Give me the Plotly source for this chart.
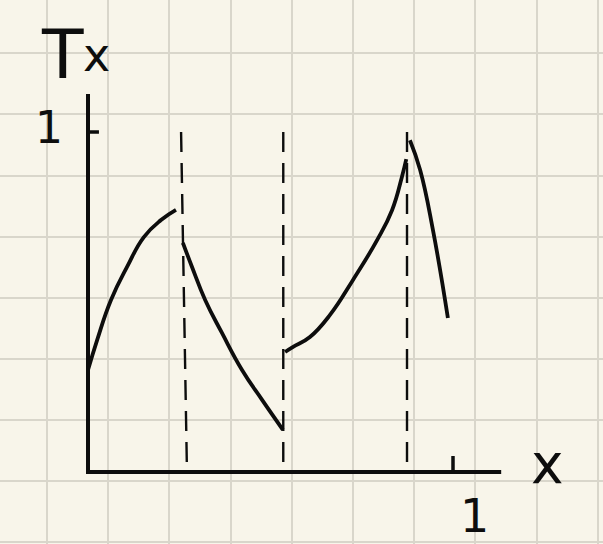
import plotly.graph_objects as go

# Piecewise curve of T(x), four branches
seg1_x = [0.0, 0.025, 0.063, 0.107, 0.153, 0.200, 0.241]
seg1_y = [0.300, 0.388, 0.506, 0.603, 0.691, 0.741, 0.771]

seg2_x = [0.260, 0.285, 0.321, 0.367, 0.422, 0.477, 0.534]
seg2_y = [0.674, 0.603, 0.506, 0.409, 0.300, 0.212, 0.124]

seg3_x = [0.540, 0.562, 0.608, 0.663, 0.726, 0.792, 0.833, 0.860, 0.872]
seg3_y = [0.353, 0.368, 0.397, 0.462, 0.565, 0.682, 0.770, 0.868, 0.920]

seg4_x = [0.882, 0.910, 0.945, 0.986]
seg4_y = [0.976, 0.888, 0.712, 0.453]

# Dashed vertical guides at the jumps (top x, bottom x)
guides_top = [0.255, 0.535, 0.874]
guides_bot = [0.271, 0.535, 0.874]

PAPER = "#f8f5ea"
GRID = "#d9d6cb"
INK = "#0d0d0d"

fig = go.Figure()

for xs, ys in [(seg1_x, seg1_y), (seg2_x, seg2_y), (seg3_x, seg3_y), (seg4_x, seg4_y)]:
    fig.add_trace(go.Scatter(x=xs, y=ys, mode="lines",
                             line=dict(color=INK, width=3.8, shape="spline", smoothing=1.3),
                             hoverinfo="skip", showlegend=False))

for xt, xb in zip(guides_top, guides_bot):
    fig.add_trace(go.Scatter(x=[xt, xb], y=[1.0, 0.01], mode="lines",
                             line=dict(color=INK, width=2.4, dash="20px,11px"),
                             hoverinfo="skip", showlegend=False))

# Axes drawn as ink strokes
fig.add_trace(go.Scatter(x=[0, 0, 1.132], y=[1.112, 0, 0], mode="lines",
                         line=dict(color=INK, width=4), hoverinfo="skip", showlegend=False))
fig.add_trace(go.Scatter(x=[0, 0.03], y=[1, 1], mode="lines",
                         line=dict(color=INK, width=3.5), hoverinfo="skip", showlegend=False))
fig.add_trace(go.Scatter(x=[1, 1], y=[0, 0.047], mode="lines",
                         line=dict(color=INK, width=3.5), hoverinfo="skip", showlegend=False))

font = "DejaVu Sans"
fig.add_annotation(x=-0.071, y=1.229, text="T", showarrow=False,
                   font=dict(family=font, size=68, color=INK))
fig.add_annotation(x=0.022, y=1.226, text="x", showarrow=False,
                   font=dict(family=font, size=46, color=INK))
fig.add_annotation(x=-0.107, y=1.012, text="1", showarrow=False,
                   font=dict(family=font, size=44, color=INK))
fig.add_annotation(x=1.058, y=-0.128, text="1", showarrow=False,
                   font=dict(family=font, size=46, color=INK))
fig.add_annotation(x=1.260, y=0.024, text="x", showarrow=False,
                   font=dict(family=font, size=55, color=INK))

fig.update_layout(
    width=603, height=544,
    margin=dict(l=0, r=0, t=0, b=0),
    paper_bgcolor=PAPER, plot_bgcolor=PAPER,
    xaxis=dict(range=[-88 / 365, 515 / 365], showticklabels=False, ticks="",
               showgrid=True, gridcolor=GRID, gridwidth=2,
               tick0=-41 / 365, dtick=61.2 / 365, zeroline=False, fixedrange=True),
    yaxis=dict(range=[-72 / 340, 472 / 340], showticklabels=False, ticks="",
               showgrid=True, gridcolor=GRID, gridwidth=2,
               tick0=-9 / 340, dtick=61.1 / 340, zeroline=False, fixedrange=True),
)

fig.write_html("out.html")
